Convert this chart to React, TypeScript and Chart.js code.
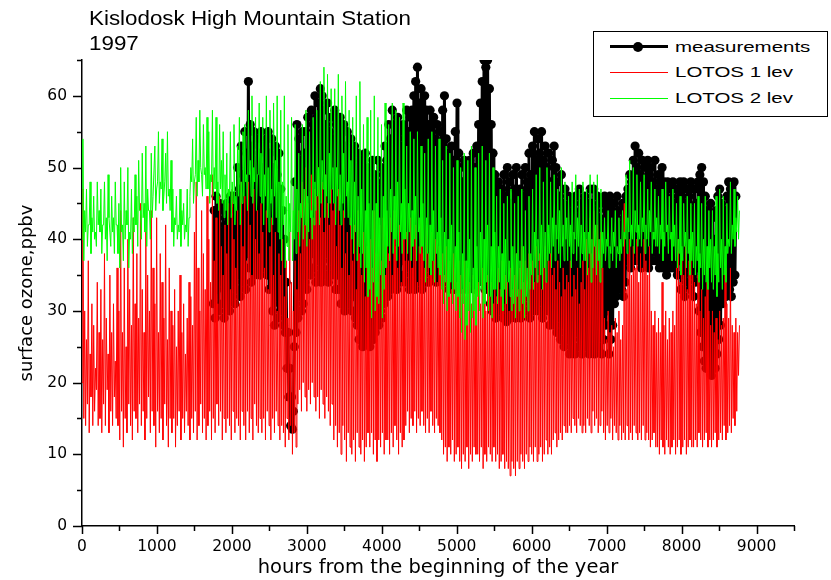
import React, { useEffect, useRef } from 'react';
import { Chart, registerables } from 'chart.js';

Chart.register(...registerables);

const TITLE_LINES = ['Kislodosk High Mountain Station', '1997'];
const X_TITLE = 'hours from the beginning of the year';
const Y_TITLE = 'surface ozone,ppbv';
const SERIES_NAMES = ['measurements', 'LOTOS 1 lev', 'LOTOS 2 lev'];
const SERIES_COLORS = ['#000000', '#ff0000', '#00ff00'];

const X_MIN = 0;
const X_MAX = 9500;
const X_MAJOR = 1000;
const X_MINOR = 500;
const Y_MIN = 0;
const Y_MAX = 65;
const Y_MAJOR = 10;
const Y_MINOR = 5;

const MODEL_START_HOUR = 0;
const MEAS_START_HOUR = 1752;
const DAY_HOURS = 24;
const HIGH_OFFSET_HOURS = 12;

// LOTOS 1 lev (red): daily low / daily high, one value per day from hour 0
const lotos1Low = [
  20, 15, 14, 17, 13, 18, 14, 16, 19, 14,
  15, 13, 17, 14, 19, 13, 16, 14, 18, 15,
  14, 12, 16, 11, 15, 13, 17, 14, 12, 16,
  15, 13, 17, 14, 16, 12, 15, 18, 13, 16,
  14, 11, 16, 13, 15, 12, 17, 14, 11, 15,
  13, 15, 11, 14, 16, 12, 15, 13, 16, 14,
  12, 15, 13, 16, 12, 14, 17, 13, 15, 12,
  14, 16, 12, 15, 13, 17, 14, 16, 12, 15,
  13, 15, 14, 12, 16, 13, 15, 14, 12, 16,
  14, 12, 16, 13, 15, 12, 17, 14, 13, 15,
  13, 15, 12, 16, 14, 12, 15, 13, 16, 14,
  12, 14, 13, 11, 15, 12, 14, 10, 13, 11,
  17, 19, 16, 20, 18, 16, 19, 17, 20, 18,
  16, 18, 15, 19, 17, 15, 18, 16, 14, 17,
  12, 14, 11, 13, 10, 14, 12, 9, 13, 11,
  10, 12, 9, 13, 11, 10, 12, 9, 11, 13,
  11, 13, 10, 12, 9, 12, 11, 13, 10, 12,
  12, 10, 13, 11, 14, 12, 10, 13, 11, 12,
  14, 16, 13, 15, 14, 16, 13, 15, 14, 16,
  14, 13, 15, 13, 16, 14, 13, 15, 14, 13,
  12, 10, 11, 9, 11, 10, 12, 9, 10, 11,
  9, 8, 10, 9, 11, 8, 10, 9, 11, 10,
  10, 9, 11, 8, 10, 9, 11, 10, 9, 11,
  9, 10, 8, 9, 10, 8, 9, 8, 7, 9,
  8, 7, 9, 8, 10, 9, 8, 10, 9, 11,
  10, 9, 11, 9, 10, 11, 9, 10, 12, 10,
  11, 10, 12, 13, 11, 12, 13, 12, 14, 13,
  13, 14, 13, 15, 14, 13, 15, 14, 13, 14,
  13, 15, 14, 13, 16, 14, 15, 13, 14, 16,
  13, 12, 14, 13, 15, 12, 14, 13, 12, 14,
  12, 13, 12, 14, 12, 13, 12, 14, 13, 12,
  13, 12, 14, 12, 13, 12, 11, 12, 13, 11,
  11, 10, 12, 11, 10, 12, 11, 10, 11, 12,
  10, 11, 12, 10, 11, 12, 10, 11, 12, 11,
  11, 12, 11, 13, 12, 11, 12, 13, 11, 12,
  11, 12, 13, 11, 12, 13, 12, 14, 12, 13,
  14, 13, 15, 14, 16, 21,
];
const lotos1High = [
  47, 30, 26, 37, 24, 31, 28, 22, 34, 27,
  33, 26, 38, 29, 24, 35, 27, 31, 23, 36,
  30, 44, 27, 36, 25, 40, 33, 28, 43, 31,
  38, 29, 45, 33, 27, 41, 35, 30, 44, 36,
  31, 43, 27, 38, 34, 29, 42, 26, 36, 30,
  28, 33, 25, 30, 35, 27, 31, 24, 29, 34,
  32, 28, 41, 48, 36, 30, 44, 38, 33, 46,
  40, 34, 49, 37, 43, 31, 46, 39, 35, 42,
  38, 45, 33, 47, 40, 36, 44, 31, 48, 39,
  46, 37, 48, 42, 35, 47, 40, 44, 38, 45,
  41, 36, 44, 33, 39, 43, 35, 41, 30, 38,
  35, 40, 32, 37, 29, 41, 34, 30, 37, 33,
  44, 38, 48, 42, 50, 45, 40, 49, 43, 47,
  46, 50, 43, 48, 41, 49, 45, 42, 47, 44,
  45, 39, 47, 42, 36, 44, 38, 41, 35, 43,
  37, 42, 33, 44, 38, 35, 41, 32, 39, 36,
  40, 36, 44, 38, 34, 42, 37, 43, 35, 41,
  38, 43, 35, 44, 39, 36, 42, 34, 40, 37,
  41, 37, 43, 36, 40, 42, 34, 39, 43, 38,
  36, 42, 38, 35, 41, 37, 40, 34, 39, 36,
  38, 35, 39, 34, 37, 33, 38, 36, 34, 37,
  35, 33, 37, 32, 36, 34, 31, 35, 33, 36,
  34, 31, 36, 33, 30, 35, 32, 34, 31, 33,
  32, 36, 33, 37, 31, 35, 34, 30, 36, 33,
  35, 38, 33, 36, 39, 34, 37, 32, 38, 35,
  37, 34, 39, 35, 38, 33, 36, 39, 34, 37,
  38, 35, 36, 33, 37, 34, 32, 36, 33, 35,
  34, 37, 32, 35, 33, 36, 31, 34, 37, 33,
  40, 36, 43, 38, 44, 39, 42, 37, 41, 36,
  29, 26, 30, 27, 28, 25, 29, 27, 30, 26,
  28, 45, 33, 38, 40, 35, 39, 36, 40, 34,
  38, 36, 40, 37, 35, 39, 30, 28, 30, 27,
  29, 27, 34, 28, 30, 26, 29, 27, 30, 28,
  36, 40, 34, 38, 35, 39, 33, 37, 40, 35,
  34, 31, 35, 30, 33, 29, 32, 34, 30, 28,
  30, 27, 29, 26, 30, 28, 29, 36, 31, 29,
  36, 28, 27, 29, 27, 28,
];

// LOTOS 2 lev (green): daily low / daily high, one value per day from hour 0
const lotos2Low = [
  40, 37, 41, 39, 42, 38, 41, 40, 39, 42,
  41, 38, 42, 40, 37, 43, 39, 41, 38, 42,
  38, 36, 41, 37, 40, 42, 36, 40, 38, 41,
  42, 39, 44, 40, 43, 41, 39, 44, 40, 43,
  46, 44, 48, 45, 47, 44, 48, 45, 46, 44,
  41, 39, 42, 40, 41, 39, 42, 40, 41, 39,
  46, 48, 45, 49, 46, 48, 50, 46, 49, 47,
  47, 45, 48, 46, 47, 45, 44, 47, 45, 43,
  44, 42, 46, 43, 45, 42, 44, 46, 42, 45,
  46, 48, 44, 49, 46, 45, 48, 44, 49, 46,
  45, 42, 46, 43, 41, 45, 42, 46, 43, 41,
  40, 37, 42, 36, 39, 37, 41, 37, 40, 38,
  41, 39, 43, 40, 42, 39, 41, 43, 40, 42,
  44, 46, 42, 45, 47, 43, 46, 43, 45, 47,
  45, 42, 46, 44, 42, 45, 43, 46, 43, 42,
  40, 38, 41, 37, 39, 36, 38, 34, 36, 32,
  33, 29, 34, 30, 32, 31, 35, 29, 33, 36,
  39, 37, 41, 38, 40, 37, 39, 41, 38, 40,
  40, 38, 41, 37, 39, 40, 37, 41, 38, 39,
  37, 34, 38, 36, 35, 37, 34, 38, 36, 35,
  33, 31, 34, 30, 32, 34, 31, 33, 30, 32,
  29, 27, 31, 26, 28, 30, 27, 29, 30, 28,
  32, 30, 33, 29, 31, 34, 30, 32, 29, 33,
  33, 31, 34, 32, 30, 33, 31, 34, 32, 30,
  31, 29, 32, 30, 33, 31, 29, 32, 30, 33,
  35, 33, 36, 34, 37, 35, 33, 36, 34, 37,
  38, 36, 39, 37, 40, 38, 36, 39, 37, 40,
  37, 39, 36, 38, 40, 37, 39, 36, 38, 37,
  37, 35, 38, 34, 36, 39, 35, 37, 34, 36,
  38, 37, 39, 36, 38, 37, 39, 36, 38, 37,
  38, 39, 40, 38, 41, 39, 40, 38, 41, 39,
  40, 39, 41, 38, 40, 39, 41, 38, 40, 39,
  39, 38, 40, 37, 39, 41, 38, 40, 37, 39,
  37, 36, 38, 35, 37, 39, 36, 38, 35, 37,
  36, 35, 37, 34, 36, 33, 35, 34, 33, 36,
  34, 33, 35, 32, 34, 36, 33, 35, 34, 38,
  39, 38, 40, 39, 41, 40,
];
const lotos2High = [
  54, 44, 47, 42, 48, 43, 46, 41, 48, 44,
  47, 42, 48, 43, 49, 41, 46, 43, 48, 42,
  45, 50, 42, 48, 44, 50, 41, 47, 43, 49,
  46, 51, 44, 52, 45, 53, 47, 44, 52, 46,
  53, 47, 55, 48, 54, 46, 52, 55, 47, 51,
  47, 43, 46, 42, 47, 44, 45, 42, 47, 43,
  50, 54, 48, 57, 51, 58, 49, 56, 50, 57,
  55, 49, 58, 50, 57, 48, 56, 51, 55, 49,
  52, 47, 55, 48, 56, 46, 53, 57, 48, 55,
  56, 49, 58, 51, 60, 50, 57, 49, 59, 52,
  57, 49, 60, 50, 58, 47, 59, 51, 60, 48,
  58, 48, 60, 46, 56, 45, 57, 44, 56, 47,
  52, 45, 56, 47, 58, 46, 55, 44, 57, 48,
  58, 50, 62, 51, 64, 49, 63, 52, 61, 50,
  61, 50, 63, 49, 60, 52, 62, 48, 58, 51,
  57, 48, 60, 46, 62, 47, 56, 44, 57, 45,
  58, 44, 60, 45, 57, 43, 56, 46, 59, 44,
  56, 47, 59, 46, 58, 48, 57, 45, 59, 47,
  53, 45, 55, 44, 54, 46, 55, 43, 53, 45,
  52, 43, 54, 42, 55, 44, 53, 41, 54, 43,
  51, 41, 53, 40, 52, 42, 50, 39, 51, 41,
  50, 38, 52, 37, 51, 40, 53, 36, 50, 39,
  52, 41, 53, 40, 51, 42, 52, 39, 50, 41,
  46, 39, 47, 38, 45, 40, 46, 37, 47, 39,
  45, 38, 46, 37, 47, 39, 44, 36, 46, 38,
  47, 41, 49, 40, 50, 42, 48, 41, 50, 42,
  48, 43, 49, 42, 47, 44, 50, 42, 48, 43,
  46, 42, 48, 41, 49, 43, 47, 42, 48, 41,
  47, 41, 49, 40, 48, 42, 49, 40, 47, 41,
  43, 40, 44, 39, 43, 41, 44, 39, 43, 40,
  44, 41, 49, 43, 51, 42, 50, 44, 49, 42,
  48, 43, 49, 42, 47, 44, 48, 41, 47, 43,
  46, 42, 47, 41, 48, 42, 46, 41, 47, 42,
  45, 40, 46, 39, 45, 41, 46, 40, 45, 41,
  45, 39, 46, 38, 45, 40, 46, 39, 44, 40,
  44, 39, 46, 38, 47, 40, 46, 39, 45, 40,
  48, 42, 47, 43, 46, 44,
];

// measurements (black): daily low / daily high, one value per day from hour 1752
const measLow = [
  31, 29, 33, 30, 34, 31, 29, 33, 31, 30,
  32, 34, 31, 33, 35, 32, 34, 36, 33, 38,
  36, 34, 38, 35, 37, 36, 35, 38, 36, 37,
  35, 33, 36, 30, 28, 32, 29, 31, 30, 28,
  27, 22, 18, 14, 13.5, 25, 27, 29, 32, 30,
  31, 34, 33, 36, 35, 38, 36, 34, 37, 35,
  34, 36, 35, 38, 34, 37, 35, 36, 33, 35,
  33, 31, 34, 30, 32, 31, 33, 30, 32, 29,
  28, 26, 29, 25, 27, 26, 28, 25, 27, 26,
  27, 29, 28, 30, 29, 31, 33, 32, 34, 33,
  34, 36, 33, 35, 34, 37, 35, 34, 36, 33,
  34, 36, 33, 35, 34, 36, 33, 35, 34, 36,
  34, 36, 35, 37, 34, 36, 35, 37, 34, 36,
  35, 33, 36, 34, 33, 35, 34, 36, 33, 35,
  34, 33, 35, 34, 36, 33, 35, 34, 36, 35,
  34, 33, 35, 33, 31, 30, 31, 29, 30, 31,
  30, 29, 31, 28.5, 30, 29, 31, 30, 29, 31,
  30, 29, 31, 30, 32, 30, 29, 31, 30, 32,
  31, 30, 32, 29, 31, 30, 32, 28, 30, 29,
  28, 27, 29, 26, 28, 25, 27, 26, 24, 26,
  25, 24, 27, 25, 26, 24, 27, 25, 26, 24,
  25, 27, 24, 26, 25, 27, 24, 26, 28, 30,
  24, 26, 28, 31, 32, 33, 35, 33, 32, 34,
  37, 38, 36, 38, 37, 39, 37, 38, 36, 38,
  37, 38, 36, 38, 37, 39, 37, 38, 36, 37,
  36, 37, 35, 37, 36, 38, 36, 37, 35, 37,
  33, 35, 32, 34, 36, 33, 35, 32, 34, 36,
  30, 27, 25, 23, 22, 24, 22, 21, 23, 22,
  24, 26, 28, 31, 33, 32, 34, 33, 32, 34,
  35,
];
const measHigh = [
  44, 46, 43, 45, 41, 44, 42, 45, 43, 46,
  42, 46, 44, 50, 47, 53, 49, 55, 52, 62,
  56, 53, 55, 51, 54, 52, 55, 50, 53, 54,
  55, 52, 54, 50, 53, 49, 52, 47, 44, 40,
  34, 27, 22, 18, 16, 48, 56, 54, 51, 55,
  52, 55, 57, 54, 58, 56, 60, 57, 59, 61,
  60, 58, 56, 59, 55, 57, 54, 58, 56, 57,
  57, 55, 56, 53, 55, 52, 54, 51, 53, 50,
  52, 50, 51, 49, 52, 48, 50, 47, 51, 49,
  48, 51, 47, 50, 49, 53, 51, 56, 54, 58,
  56, 54, 57, 55, 53, 56, 54, 58, 55, 57,
  58, 60, 62, 64, 59, 61, 57, 60, 58, 56,
  58, 55, 57, 54, 56, 53, 55, 58, 60, 54,
  52, 50, 53, 51, 55, 59, 52, 50, 48, 51,
  50, 48, 51, 49, 52, 50, 53, 56, 59, 62,
  65, 64, 65, 61, 56, 52, 49, 47, 48, 46,
  47, 49, 46, 50, 48, 45, 49, 47, 50, 46,
  47, 49, 46, 50, 48, 52, 49, 53, 55, 51,
  54, 52, 55, 51, 53, 50, 52, 48, 51, 53,
  50, 48, 46, 49, 45, 47, 44, 46, 43, 45,
  44, 46, 43, 47, 45, 44, 46, 43, 45, 47,
  45, 47, 44, 46, 43, 45, 42, 46, 44, 45,
  46, 44, 45, 43, 46, 44, 42, 45, 43, 46,
  47, 49, 48, 51, 53, 50, 52, 49, 51, 48,
  50, 51, 49, 50, 48, 51, 47, 49, 48, 50,
  48, 46, 48, 45, 47, 48, 45, 47, 46, 48,
  47, 48, 45, 47, 46, 48, 44, 47, 45, 48,
  49, 50, 48, 46, 44, 42, 45, 43, 40, 44,
  46, 47, 45, 43, 44, 46, 48, 47, 46, 48,
  46,
];

const toPoints = (lows: number[], highs: number[], start: number) =>
  lows.flatMap((lo, i) => [
    { x: start + i * DAY_HOURS, y: lo },
    { x: start + i * DAY_HOURS + HIGH_OFFSET_HOURS, y: highs[i] },
  ]);

const TICK_FONT = { family: "'DejaVu Sans', sans-serif", size: 15.5 };

const outerTicks = {
  id: 'outerTicks',
  afterDraw(chart: any) {
    const { ctx, chartArea } = chart;
    const xs = chart.scales.x;
    const ys = chart.scales.y;
    ctx.save();
    ctx.strokeStyle = '#000';
    ctx.lineWidth = 1.5;
    ctx.beginPath();
    for (let v = X_MIN; v <= X_MAX; v += X_MINOR) {
      const px = Math.round(xs.getPixelForValue(v)) + 0.5;
      const len = v % X_MAJOR === 0 ? 8 : 5;
      ctx.moveTo(px, chartArea.bottom);
      ctx.lineTo(px, chartArea.bottom + len);
    }
    for (let v = Y_MIN; v <= Y_MAX; v += Y_MINOR) {
      const py = Math.round(ys.getPixelForValue(v)) + 0.5;
      const len = v % Y_MAJOR === 0 ? 9 : 5;
      ctx.moveTo(chartArea.left, py);
      ctx.lineTo(chartArea.left - len, py);
    }
    ctx.stroke();
    ctx.restore();
  },
};

export default function App() {
  const canvasRef = useRef<HTMLCanvasElement | null>(null);

  useEffect(() => {
    if (!canvasRef.current) return;
    const chart = new Chart(canvasRef.current, {
      type: 'line',
      data: {
        datasets: [
          {
            label: SERIES_NAMES[0],
            data: toPoints(measLow, measHigh, MEAS_START_HOUR),
            borderColor: SERIES_COLORS[0],
            backgroundColor: SERIES_COLORS[0],
            borderWidth: 3,
            pointRadius: 4.6,
            pointBorderWidth: 0,
            pointBackgroundColor: SERIES_COLORS[0],
            tension: 0,
            order: 2,
          },
          {
            label: SERIES_NAMES[1],
            data: toPoints(lotos1Low, lotos1High, MODEL_START_HOUR),
            borderColor: SERIES_COLORS[1],
            borderWidth: 1,
            pointRadius: 0,
            tension: 0,
            order: 1,
          },
          {
            label: SERIES_NAMES[2],
            data: toPoints(lotos2Low, lotos2High, MODEL_START_HOUR),
            borderColor: SERIES_COLORS[2],
            borderWidth: 1,
            pointRadius: 0,
            tension: 0,
            order: 0,
          },
        ],
      },
      options: {
        animation: false,
        responsive: false,
        devicePixelRatio: 1,
        events: [],
        layout: { padding: { top: 60, right: 37, left: 0, bottom: 0 } },
        plugins: {
          legend: { display: false },
          title: { display: false },
          tooltip: { enabled: false },
        },
        scales: {
          x: {
            type: 'linear',
            min: X_MIN,
            max: X_MAX,
            afterFit: (s: any) => {
              s.height = 54;
            },
            border: { display: true, color: '#000', width: 1.5 },
            grid: {
              display: true,
              drawOnChartArea: false,
              drawTicks: true,
              tickLength: 8,
              tickColor: 'rgba(0,0,0,0)',
            },
            ticks: {
              stepSize: X_MINOR,
              autoSkip: false,
              maxRotation: 0,
              minRotation: 0,
              padding: 4,
              color: '#000',
              font: TICK_FONT,
              callback: (v: any) => (Number(v) % X_MAJOR === 0 ? String(v) : ''),
            },
            title: {
              display: true,
              text: X_TITLE,
              color: '#000',
              font: { family: "'DejaVu Sans', sans-serif", size: 19.5 },
              padding: { top: 0, bottom: 0 },
            },
          },
          y: {
            type: 'linear',
            min: Y_MIN,
            max: Y_MAX,
            afterFit: (s: any) => {
              s.width = 82;
            },
            border: { display: true, color: '#000', width: 1.5 },
            grid: {
              display: true,
              drawOnChartArea: false,
              drawTicks: true,
              tickLength: 9,
              tickColor: 'rgba(0,0,0,0)',
            },
            ticks: {
              stepSize: Y_MINOR,
              autoSkip: false,
              padding: 6,
              color: '#000',
              font: TICK_FONT,
              callback: (v: any) => (Number(v) % Y_MAJOR === 0 ? String(v) : ''),
            },
            title: {
              display: true,
              text: Y_TITLE,
              color: '#000',
              font: { family: "'DejaVu Sans', sans-serif", size: 18 },
              padding: { top: 17, bottom: 0 },
            },
          },
        },
      },
      plugins: [outerTicks],
    } as any);
    return () => chart.destroy();
  }, []);

  const legendText: React.CSSProperties = {
    position: 'absolute',
    left: 675,
    fontFamily: "'Liberation Sans', Arial, sans-serif",
    fontSize: 15.5,
    lineHeight: '20px',
    whiteSpace: 'nowrap',
    color: '#000',
    transform: 'scaleX(1.32)',
    transformOrigin: 'left top',
  };

  return (
    <div
      style={{
        position: 'absolute',
        left: 0,
        top: 0,
        width: 831,
        height: 580,
        background: '#fff',
        overflow: 'hidden',
      }}
    >
      <canvas ref={canvasRef} width={831} height={580} style={{ display: 'block' }} />
      <div
        style={{
          position: 'absolute',
          left: 89,
          top: 4.5,
          fontFamily: "'Liberation Sans', Arial, sans-serif",
          fontSize: 21,
          lineHeight: '25px',
          whiteSpace: 'nowrap',
          color: '#000',
          transform: 'scaleX(1.065)',
          transformOrigin: 'left top',
        }}
      >
        {TITLE_LINES.map((t) => (
          <div key={t}>{t}</div>
        ))}
      </div>
      <div
        style={{
          position: 'absolute',
          left: 593,
          top: 31,
          width: 235,
          height: 86,
          boxSizing: 'border-box',
          border: '1.5px solid #000',
          background: '#fff',
        }}
      />
      <div style={{ position: 'absolute', left: 610, top: 45.2, width: 58, height: 3, background: SERIES_COLORS[0] }} />
      <div
        style={{
          position: 'absolute',
          left: 633,
          top: 41.7,
          width: 10,
          height: 10,
          borderRadius: '50%',
          background: SERIES_COLORS[0],
        }}
      />
      <div style={{ position: 'absolute', left: 610, top: 72.2, width: 58, height: 1, background: SERIES_COLORS[1] }} />
      <div style={{ position: 'absolute', left: 610, top: 98.3, width: 58, height: 1, background: SERIES_COLORS[2] }} />
      <div style={{ ...legendText, top: 36.9 }}>{SERIES_NAMES[0]}</div>
      <div style={{ ...legendText, top: 62.3 }}>{SERIES_NAMES[1]}</div>
      <div style={{ ...legendText, top: 87.9 }}>{SERIES_NAMES[2]}</div>
    </div>
  );
}
